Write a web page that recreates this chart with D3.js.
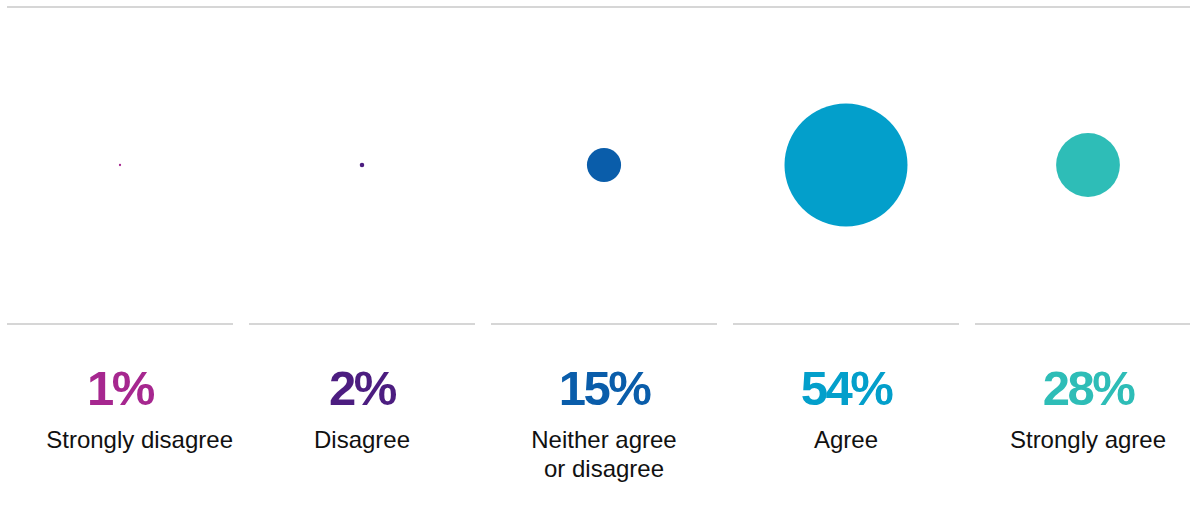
<!DOCTYPE html>
<html>
<head>
<meta charset="utf-8">
<script src="https://cdn.jsdelivr.net/npm/d3@7"></script>
<style>
  html, body { margin: 0; padding: 0; background: #ffffff; }
  svg { display: block; }
</style>
</head>
<body>
<svg id="chart" width="1190" height="519"></svg>
<script>
// Survey response shares
const categories = ["Strongly disagree", "Disagree", "Neither agree\nor disagree", "Agree", "Strongly agree"];
const values = [1, 2, 15, 54, 28];
const colors = ["#a6278f", "#4c1d80", "#0a5daa", "#039fcb", "#2ebdb7"];

const width = 1190, height = 519;
const svg = d3.select("#chart");

const x = d3.scaleBand().domain(categories).range([-1, 1209]).paddingInner(0).paddingOuter(0);
// Circle radius grows linearly with the share
const r = d3.scaleLinear().domain([0, 100]).range([0, 113.9]);

const circleY = 165;
const sepY = 324;
const inset = 8;

// Top rule
svg.append("line")
  .attr("x1", 7).attr("x2", width)
  .attr("y1", 7).attr("y2", 7)
  .attr("stroke", "#c9c9c9").attr("stroke-width", 1.5);

const cols = svg.selectAll("g.col")
  .data(categories.map((c, i) => ({ cat: c, value: values[i], color: colors[i] })))
  .join("g")
  .attr("class", "col")
  .attr("transform", d => `translate(${x(d.cat)},0)`);

cols.append("circle")
  .attr("cx", x.bandwidth() / 2)
  .attr("cy", circleY)
  .attr("r", d => r(d.value))
  .attr("fill", d => d.color);

cols.append("line")
  .attr("x1", inset).attr("x2", x.bandwidth() - inset)
  .attr("y1", sepY).attr("y2", sepY)
  .attr("stroke", "#c9c9c9").attr("stroke-width", 1.5);

cols.append("text")
  .attr("x", x.bandwidth() / 2)
  .attr("y", 405)
  .attr("text-anchor", "middle")
  .attr("font-family", "'Liberation Sans', Arial, sans-serif")
  .attr("font-weight", "bold")
  .attr("font-size", 49)
  .attr("letter-spacing", "-2.5px")
  .attr("fill", d => d.color)
  .text(d => d.value + "%");

// Category names; the first column's long name is pushed against its rule's right end
const labels = cols.append("text")
  .attr("y", 448)
  .attr("font-family", "'Liberation Sans', Arial, sans-serif")
  .attr("font-size", 24)
  .attr("fill", "#111111");

labels.selectAll("tspan")
  .data((d, i) => d.cat.split("\n").map(t => ({ t, first: i === 0 })))
  .join("tspan")
  .attr("x", d => d.first ? x.bandwidth() - inset : x.bandwidth() / 2)
  .attr("text-anchor", d => d.first ? "end" : "middle")
  .attr("dy", (d, i) => i === 0 ? 0 : 29)
  .text(d => d.t);
</script>
</body>
</html>
